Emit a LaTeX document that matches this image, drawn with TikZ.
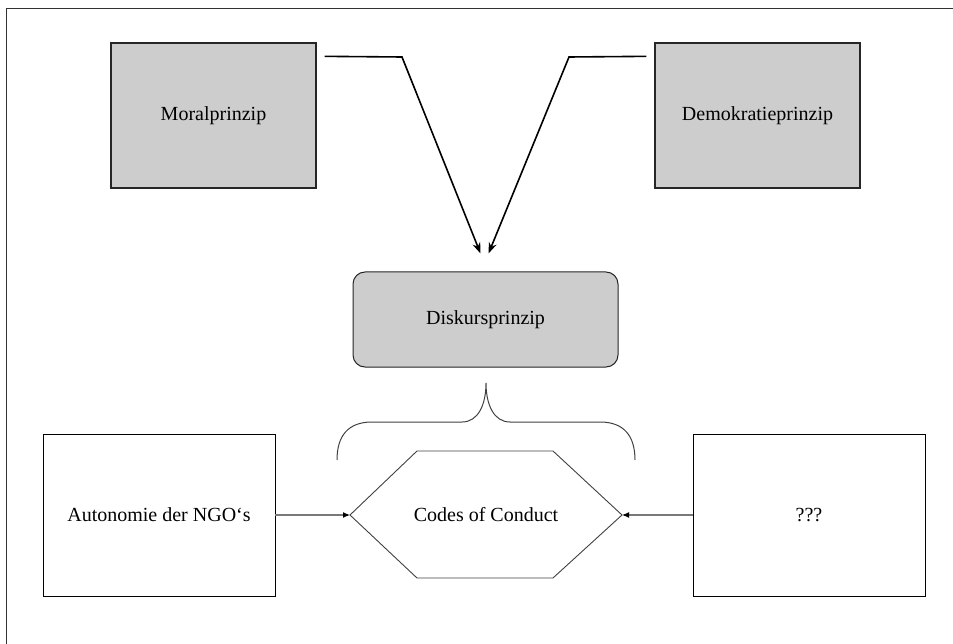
\documentclass[tikz,border=0pt]{standalone}
\usepackage{fontspec}
\setmainfont{Liberation Serif}
\usetikzlibrary{arrows.meta}
\definecolor{boxgray}{RGB}{205,205,205}
\definecolor{linegray}{RGB}{120,120,120}
\begin{document}
\begin{tikzpicture}[x=1pt,y=-1pt,
  every node/.style={font=\fontsize{20}{24}\selectfont, inner sep=0pt},
  shaded/.style={draw=black!85, line width=1.3pt, fill=boxgray},
  plainbox/.style={draw=black, line width=0.9pt, fill=white},
  topconn/.style={draw=black, line width=1.6pt, -{Stealth[length=11pt,width=8pt]}},
  sideconn/.style={draw=linegray, line width=1.2pt, -{Latex[length=7pt,width=6pt,color=black]}},
  hexline/.style={draw=black!75, line width=0.9pt}]
\useasboundingbox (0,0) rectangle (953,644);
% outer frame (only top and left edge visible)
\draw[line width=1pt, black!80] (6,644) -- (6,9) -- (953,9);

\node[shaded, minimum width=205pt, minimum height=145pt] (mor) at (213.5,115.5) {Moralprinzip};
\node[shaded, minimum width=205pt, minimum height=145pt] (dem) at (757.5,115.5) {Demokratieprinzip};
\node[shaded, rounded corners=12pt, line width=1pt, minimum width=265pt, minimum height=95pt] (dis) at (485.5,319.5) {Diskursprinzip};

\coordinate (mstart) at ([xshift=8pt,yshift=-14pt]mor.north east);
\coordinate (dstart) at ([xshift=-8pt,yshift=-14pt]dem.north west);
\coordinate (mtip) at ([xshift=-5pt,yshift=18pt]dis.north);
\coordinate (dtip) at ([xshift=3pt,yshift=18pt]dis.north);
\draw[topconn] (mstart) -- (402,57) -- (mtip);
\draw[topconn] (dstart) -- (569,57) -- (dtip);

% brace
\draw[hexline, line width=1pt] (337,460) .. controls (337,436) and (348,422) .. (372,422)
  -- (462,422) .. controls (478,422) and (486,405) .. (486,383)
  .. controls (486,405) and (494,422) .. (510,422)
  -- (600,422) .. controls (624,422) and (635,436) .. (635,460);

% hexagon
\node (coc) at (486,515) {Codes of Conduct};
\coordinate (hl) at (350,515);
\coordinate (hr) at (622,515);
\draw[hexline] (hl) -- (417,451) -- (553,451) -- (hr) -- (553,578) -- (417,578) -- cycle;

\node[plainbox, minimum width=232pt, minimum height=162pt] (aut) at (159,515) {Autonomie der NGO‘s};
\node[plainbox, minimum width=232pt, minimum height=162pt] (qqq) at (809,515) {???};

\draw[sideconn] (aut.east) -- (hl);
\draw[sideconn] (qqq.west) -- (hr);
\end{tikzpicture}
\end{document}
